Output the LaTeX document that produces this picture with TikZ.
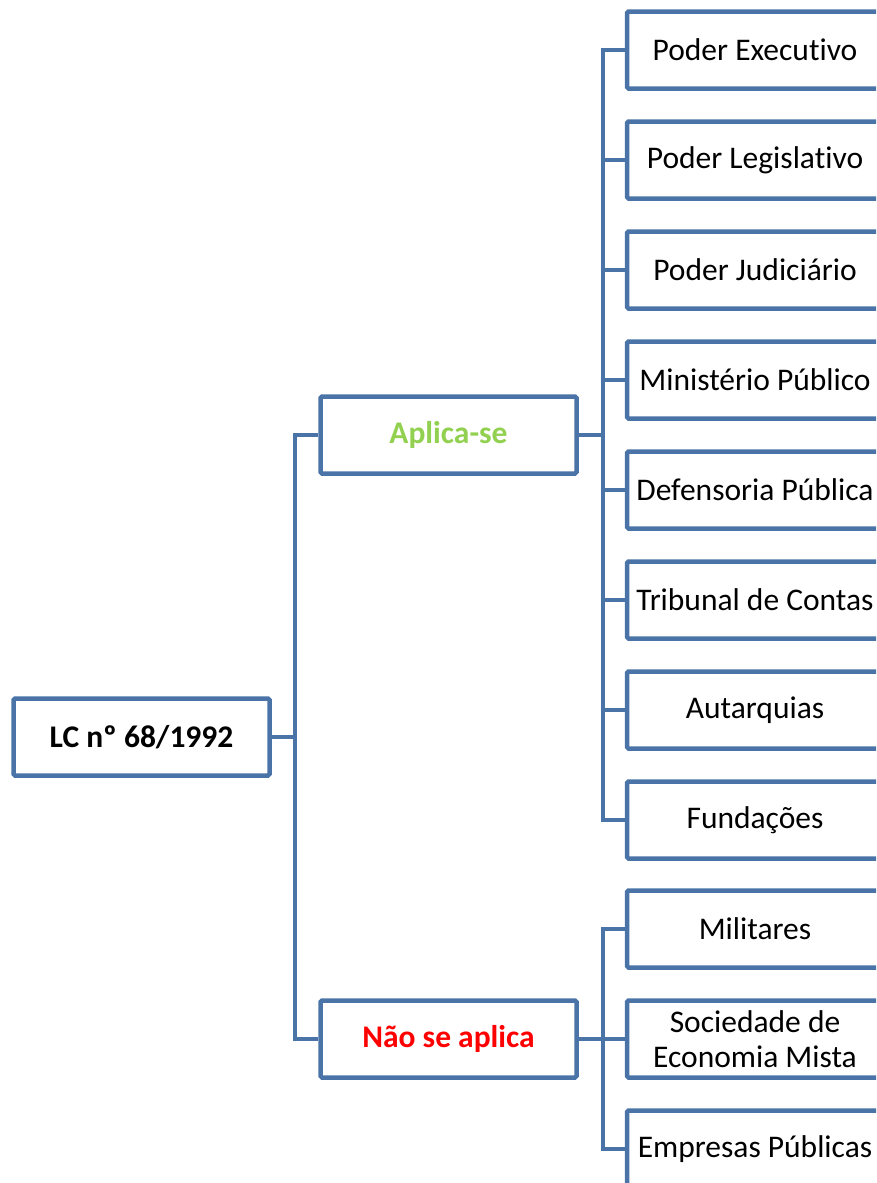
\documentclass[tikz,border=0pt]{standalone}
\usepackage{fontspec}
\setmainfont[Ligatures=NoCommon]{Carlito}
\definecolor{lineblue}{RGB}{74,116,168}
\definecolor{greenlbl}{RGB}{146,208,80}
\definecolor{redlbl}{RGB}{255,0,0}
\begin{document}
\begin{tikzpicture}[x=1pt,y=-1pt,
  box/.style={draw=lineblue,line width=4.5pt,rounded corners=1.5pt,fill=white,
    minimum width=256pt,minimum height=77pt,inner sep=0pt,align=center,
    font=\fontsize{31.5}{35}\selectfont},
  mid/.style={box,font=\fontsize{31.5}{35}\selectfont\bfseries},
  conn/.style={draw=lineblue,line width=4pt}]
\useasboundingbox (0,0) rectangle (876,1183);
\clip (0,0) rectangle (876,1183);
% root
\node[mid] (root) at (141.5,737) {LC nº 68/1992};
\node[mid,text=greenlbl] (apl) at (448.5,435) {Aplica-se};
\node[mid,text=redlbl] (nao) at (448.5,1039) {Não se aplica};
% right column
\node[box] (a1) at (755,50) {Poder Executivo};
\node[box] (a2) at (755,160) {Poder Legislativo};
\node[box] (a3) at (755,270) {Poder Judiciário};
\node[box] (a4) at (755,380) {Ministério Público};
\node[box] (a5) at (755,490) {Defensoria Pública};
\node[box] (a6) at (755,600) {Tribunal de Contas};
\node[box] (a7) at (755,710) {Autarquias};
\node[box] (a8) at (755,820) {Fundações};
\node[box] (n1) at (755,929) {Militares};
\node[box] (n2) at (755,1039) {Sociedade de\\Economia Mista};
\node[box] (n3) at (755,1149) {Empresas Públicas};
% coordinates
\coordinate (rb) at (295,737);
\coordinate (ab) at (603,435);
\coordinate (nb) at (603,1039);
% connectors root
\draw[conn] (root.east) -- (rb);
\draw[conn,line cap=rect] (rb |- apl.west) -- (rb |- nao.west);
\draw[conn] (rb |- apl.west) -- (apl.west);
\draw[conn] (rb |- nao.west) -- (nao.west);
% aplica-se
\draw[conn] (apl.east) -- (ab);
\draw[conn,line cap=rect] (ab |- a1.west) -- (ab |- a8.west);
\foreach \n in {a1,a2,a3,a4,a5,a6,a7,a8}{\draw[conn] (ab |- \n.west) -- (\n.west);}
% nao
\draw[conn] (nao.east) -- (nb);
\draw[conn,line cap=rect] (nb |- n1.west) -- (nb |- n3.west);
\foreach \n in {n1,n2,n3}{\draw[conn] (nb |- \n.west) -- (\n.west);}
\end{tikzpicture}
\end{document}
